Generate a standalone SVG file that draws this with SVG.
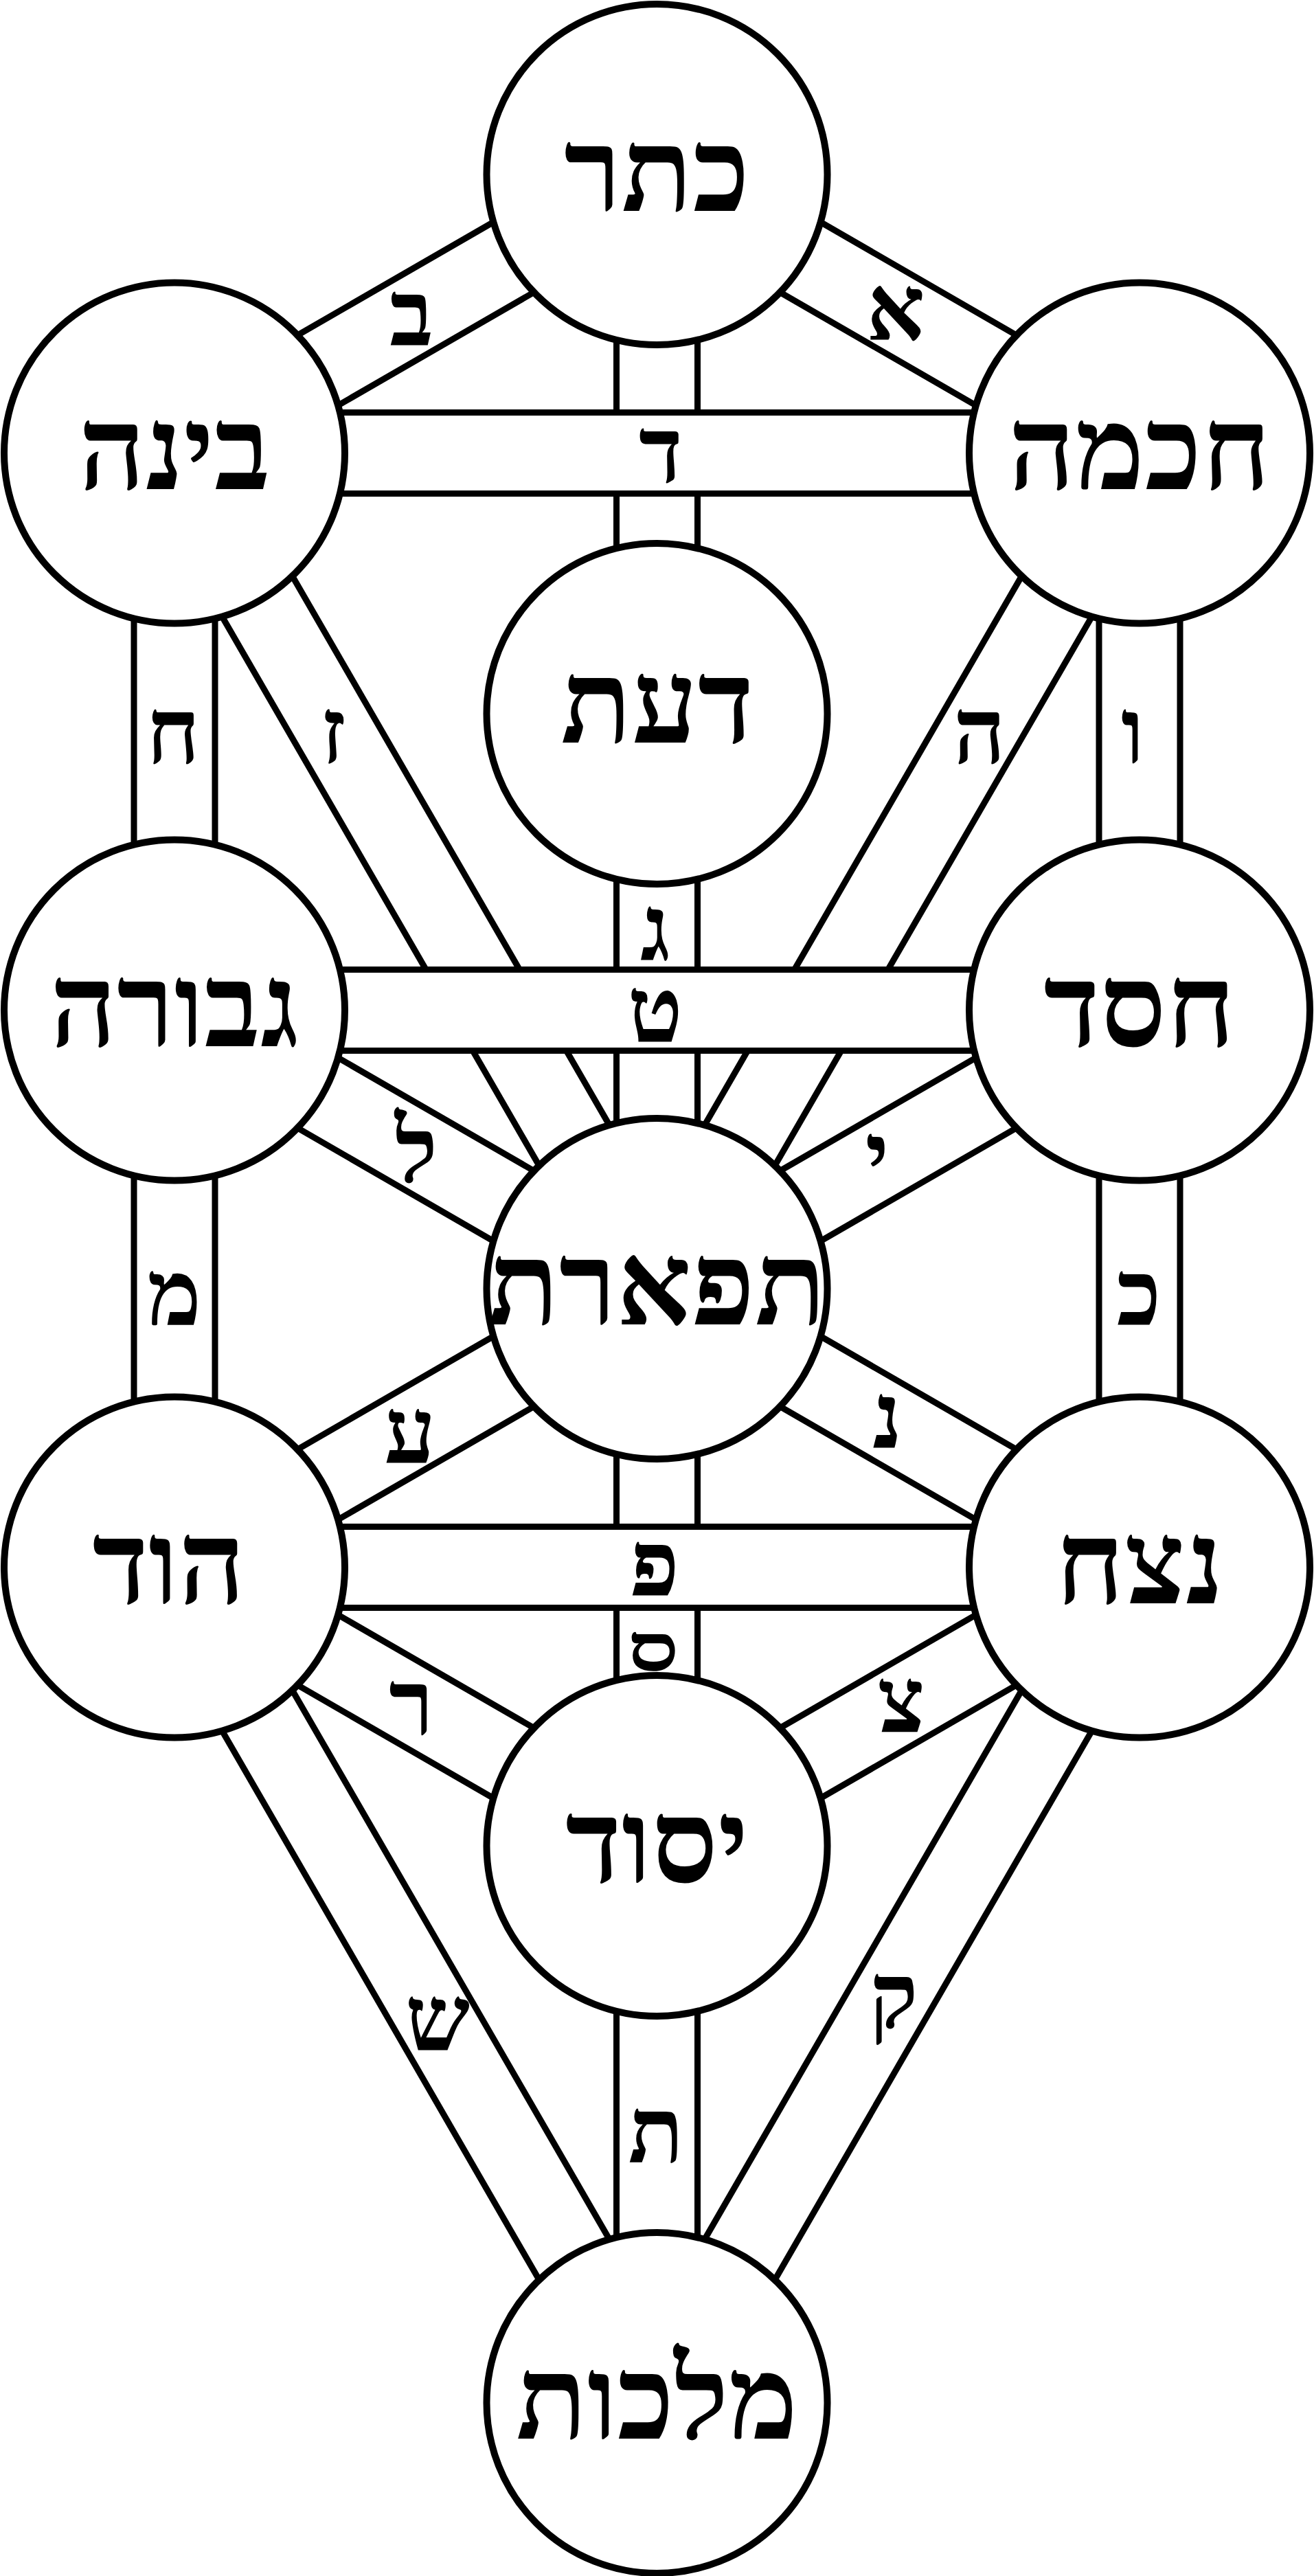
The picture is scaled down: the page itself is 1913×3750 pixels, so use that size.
<svg xmlns="http://www.w3.org/2000/svg" width="1913" height="3750" viewBox="0 0 1913 3750">
<style>
.ln{stroke:#000;stroke-width:9;fill:none;stroke-linecap:butt}
.hb{fill:#fff;stroke:none}
.node circle{fill:#fff;stroke:#000;stroke-width:10}
.name{font-family:"Liberation Serif","DejaVu Sans",serif;font-size:170px;font-weight:bold;text-anchor:middle;fill:#000}
.lbl{font-family:"Liberation Serif","DejaVu Sans",serif;font-size:133px;font-weight:bold;text-anchor:middle;fill:#000}
</style>
<rect x="0" y="0" width="1913" height="3750" fill="#fff"/>
<g id="connectors">
  <g id="path-gimel">
    <line class="ln" x1="897.5" y1="254" x2="897.5" y2="1876"/>
    <line class="ln" x1="1015.5" y1="254" x2="1015.5" y2="1876"/>
    <text class="lbl" x="954" y="1398">ג</text>
  </g>
  <g id="path-aleph">
    <line class="ln" x1="927" y1="305.1" x2="1629.5" y2="710.6"/>
    <line class="ln" x1="986" y1="202.9" x2="1688.5" y2="608.4"/>
    <text class="lbl" x="1304" y="495">א</text>
  </g>
  <g id="path-bet">
    <line class="ln" x1="927" y1="202.9" x2="224.5" y2="608.4"/>
    <line class="ln" x1="986" y1="305.1" x2="283.5" y2="710.6"/>
    <text class="lbl" x="599" y="503">ב</text>
  </g>
  <g id="path-he">
    <line class="ln" x1="1607.9" y1="630" x2="905.4" y2="1846.5"/>
    <line class="ln" x1="1710.1" y1="689" x2="1007.6" y2="1905.5"/>
    <text class="lbl" x="1426" y="1111">ה</text>
  </g>
  <g id="path-zayin">
    <line class="ln" x1="202.9" y1="689" x2="905.4" y2="1905.5"/>
    <line class="ln" x1="305.1" y1="630" x2="1007.6" y2="1846.5"/>
    <text class="lbl" x="485" y="1111">ז</text>
  </g>
  <g id="path-vav">
    <line class="ln" x1="1600" y1="659.5" x2="1600" y2="1470.5"/>
    <line class="ln" x1="1718" y1="659.5" x2="1718" y2="1470.5"/>
    <text class="lbl" x="1649" y="1111">ו</text>
  </g>
  <g id="path-het">
    <line class="ln" x1="195" y1="659.5" x2="195" y2="1470.5"/>
    <line class="ln" x1="313" y1="659.5" x2="313" y2="1470.5"/>
    <text class="lbl" x="252" y="1111">ח</text>
  </g>
  <g id="path-yod">
    <line class="ln" x1="1629.5" y1="1419.4" x2="927" y2="1824.9"/>
    <line class="ln" x1="1688.5" y1="1521.6" x2="986" y2="1927.1"/>
    <text class="lbl" x="1277" y="1729">י</text>
  </g>
  <g id="path-lamed">
    <line class="ln" x1="224.5" y1="1521.6" x2="927" y2="1927.1"/>
    <line class="ln" x1="283.5" y1="1419.4" x2="986" y2="1824.9"/>
    <text class="lbl" x="606" y="1721">ל</text>
  </g>
  <g id="path-kaf">
    <line class="ln" x1="1600" y1="1470.5" x2="1600" y2="2281.5"/>
    <line class="ln" x1="1718" y1="1470.5" x2="1718" y2="2281.5"/>
    <text class="lbl" x="1658" y="1929">כ</text>
  </g>
  <g id="path-mem">
    <line class="ln" x1="195" y1="1470.5" x2="195" y2="2281.5"/>
    <line class="ln" x1="313" y1="1470.5" x2="313" y2="2281.5"/>
    <text class="lbl" x="254" y="1929">מ</text>
  </g>
  <g id="path-nun">
    <line class="ln" x1="927" y1="1927.1" x2="1629.5" y2="2332.6"/>
    <line class="ln" x1="986" y1="1824.9" x2="1688.5" y2="2230.4"/>
    <text class="lbl" x="1292" y="2108">נ</text>
  </g>
  <g id="path-ayin">
    <line class="ln" x1="927" y1="1824.9" x2="224.5" y2="2230.4"/>
    <line class="ln" x1="986" y1="1927.1" x2="283.5" y2="2332.6"/>
    <text class="lbl" x="597" y="2130">ע</text>
  </g>
  <g id="path-samekh">
    <line class="ln" x1="897.5" y1="1876" x2="897.5" y2="2687"/>
    <line class="ln" x1="1015.5" y1="1876" x2="1015.5" y2="2687"/>
    <text class="lbl" transform="translate(951,2432) scale(1,0.72)" x="0" y="0">ס</text>
  </g>
  <g id="path-tsadi">
    <line class="ln" x1="1629.5" y1="2230.4" x2="927" y2="2635.9"/>
    <line class="ln" x1="1688.5" y1="2332.6" x2="986" y2="2738.1"/>
    <text class="lbl" x="1312" y="2522">צ</text>
  </g>
  <g id="path-resh">
    <line class="ln" x1="224.5" y1="2332.6" x2="927" y2="2738.1"/>
    <line class="ln" x1="283.5" y1="2230.4" x2="986" y2="2635.9"/>
    <text class="lbl" x="599" y="2526">ר</text>
  </g>
  <g id="path-qof">
    <line class="ln" x1="1607.9" y1="2252" x2="905.4" y2="3468.5"/>
    <line class="ln" x1="1710.1" y1="2311" x2="1007.6" y2="3527.5"/>
    <text class="lbl" x="1301" y="2952">ק</text>
  </g>
  <g id="path-shin">
    <line class="ln" x1="202.9" y1="2311" x2="905.4" y2="3527.5"/>
    <line class="ln" x1="305.1" y1="2252" x2="1007.6" y2="3468.5"/>
    <text class="lbl" x="637" y="2985">ש</text>
  </g>
  <g id="path-tav">
    <line class="ln" x1="897.5" y1="2687" x2="897.5" y2="3498"/>
    <line class="ln" x1="1015.5" y1="2687" x2="1015.5" y2="3498"/>
    <text class="lbl" x="955" y="3148">ת</text>
  </g>
  <g id="path-dalet">
    <rect class="hb" x="254" y="600.5" width="1405" height="118"/>
    <line class="ln" x1="254" y1="600.5" x2="1659" y2="600.5"/>
    <line class="ln" x1="254" y1="718.5" x2="1659" y2="718.5"/>
    <text class="lbl" x="962" y="702">ד</text>
  </g>
  <g id="path-tet">
    <rect class="hb" x="254" y="1411.5" width="1405" height="118"/>
    <line class="ln" x1="254" y1="1411.5" x2="1659" y2="1411.5"/>
    <line class="ln" x1="254" y1="1529.5" x2="1659" y2="1529.5"/>
    <text class="lbl" x="954" y="1517">ט</text>
  </g>
  <g id="path-pe">
    <rect class="hb" x="254" y="2222.5" width="1405" height="118"/>
    <line class="ln" x1="254" y1="2222.5" x2="1659" y2="2222.5"/>
    <line class="ln" x1="254" y1="2340.5" x2="1659" y2="2340.5"/>
    <text class="lbl" x="953" y="2323">פ</text>
  </g>
</g>
<g id="keter" class="node"><circle cx="956.5" cy="254" r="248"/><text class="name" x="956.5" y="307">כתר</text></g>
<g id="chokhmah" class="node"><circle cx="1659" cy="659.5" r="248"/><text class="name" x="1659" y="712">חכמה</text></g>
<g id="binah" class="node"><circle cx="254" cy="659.5" r="248"/><text class="name" x="254" y="712">בינה</text></g>
<g id="daat" class="node"><circle cx="956.5" cy="1039" r="248"/><text class="name" x="957" y="1081">דעת</text></g>
<g id="chesed" class="node"><circle cx="1659" cy="1470.5" r="248"/><text class="name" x="1659" y="1523">חסד</text></g>
<g id="gevurah" class="node"><circle cx="254" cy="1470.5" r="248"/><text class="name" x="254" y="1523">גבורה</text></g>
<g id="tiferet" class="node"><circle cx="956.5" cy="1876" r="248"/><text class="name" x="956.5" y="1928">תפארת</text></g>
<g id="netzach" class="node"><circle cx="1659" cy="2281.5" r="248"/><text class="name" x="1659" y="2334">נצח</text></g>
<g id="hod" class="node"><circle cx="254" cy="2281.5" r="248"/><text class="name" x="246" y="2334">הוד</text></g>
<g id="yesod" class="node"><circle cx="956.5" cy="2687" r="248"/><text class="name" x="956.5" y="2740">יסוד</text></g>
<g id="malkhut" class="node"><circle cx="956.5" cy="3498" r="248"/><text class="name" x="956.5" y="3550">מלכות</text></g>
</svg>
